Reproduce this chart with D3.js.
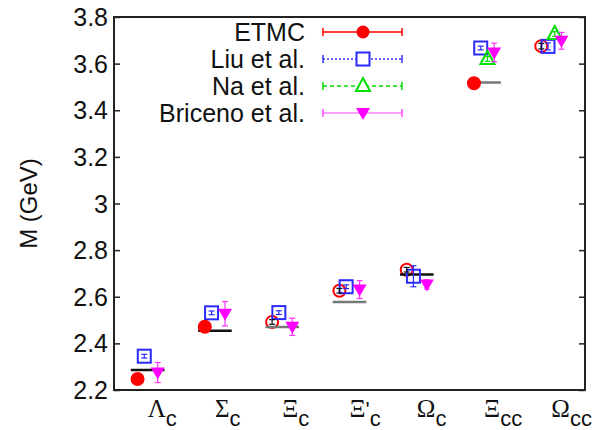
<!DOCTYPE html>
<html>
<head>
<meta charset="utf-8">
<script src="https://cdn.jsdelivr.net/npm/d3@7"></script>
<style>
  body { margin: 0; background: #fff; }
  svg { font-family: "Liberation Sans", Arial, sans-serif; }
</style>
</head>
<body>
<div id="chart"></div>
<script>
// baryon names: [greek letter, prime, subscript]
const baryons = [["Λ", "", "c"], ["Σ", "", "c"], ["Ξ", "", "c"], ["Ξ", "'", "c"], ["Ω", "", "c"], ["Ξ", "", "cc"], ["Ω", "", "cc"]];
const yTicks = [2.2, 2.4, 2.6, 2.8, 3, 3.2, 3.4, 3.6, 3.8];

const etmc      = [2.247, 2.471, 2.492, 2.626, 2.716, 3.516, 3.675];
const etmcErr   = [0.012, 0.014, 0.010, 0.010, 0.010, 0.010, 0.012];
const etmcPhys  = [true, true, false, false, false, true, false];
const expt      = [2.286, 2.454, 2.470, 2.578, 2.695, 3.519, null];
const exptMeas  = [true, true, false, false, true, false, false];
const liu       = [2.345, 2.531, 2.532, 2.643, 2.688, 3.667, 3.674];
const liuErr    = [0.008, 0.008, 0.008, 0.008, 0.045, 0.008, 0.015];
const na        = [null, null, null, null, null, 3.620, 3.727];
const naErr     = [null, null, null, null, null, 0.010, 0.010];
const briceno   = [2.275, 2.527, 2.471, 2.631, 2.653, 3.648, 3.698];
const bricenoErr = [0.043, 0.052, 0.037, 0.038, 0.020, 0.040, 0.036];

const W = 595, H = 430;
const margin = {top: 17, right: 10, bottom: 40, left: 114};

const svg = d3.select("#chart").append("svg")
  .attr("width", W).attr("height", H);

const x = d3.scaleLinear().domain([0.5, 7.5]).range([margin.left, W - margin.right]);
const y = d3.scaleLinear().domain([2.2, 3.8]).range([H - margin.bottom, margin.top]);

// axes (ticks inward, both sides)
svg.append("g")
  .attr("transform", `translate(${margin.left},0)`)
  .call(d3.axisRight(y).tickValues(yTicks).tickSize(6).tickFormat(""))
  .call(g => g.select(".domain").remove());
svg.append("g")
  .attr("transform", `translate(${W - margin.right},0)`)
  .call(d3.axisLeft(y).tickValues(yTicks).tickSize(6).tickFormat(""))
  .call(g => g.select(".domain").remove());
svg.selectAll(".tick line").attr("stroke", "#222").attr("stroke-width", 1.5);

svg.append("g").selectAll("text")
  .data(yTicks)
  .join("text")
  .attr("x", margin.left - 6)
  .attr("y", d => y(d) + 9)
  .attr("text-anchor", "end")
  .attr("font-size", 25)
  .attr("fill", "#111")
  .text(d => d3.format("")(d));

svg.append("text")
  .attr("transform", `translate(37,${(y(2.2) + y(3.8)) / 2}) rotate(-90)`)
  .attr("text-anchor", "middle")
  .attr("font-size", 24)
  .attr("fill", "#111")
  .text("M (GeV)");

// x labels
const xl = svg.append("g").selectAll("text")
  .data(baryons)
  .join("text")
  .attr("x", (d, i) => x(i + 1))
  .attr("y", 417)
  .attr("fill", "#111");
xl.append("tspan").attr("font-family", "Liberation Serif, serif").attr("font-size", 25).text(d => d[0]);
xl.append("tspan").attr("font-size", 22).text(d => d[1]);
xl.append("tspan").attr("font-size", 22).attr("dy", 9).text(d => d[2]);

const off = {etmc: -0.15, liu: -0.05, na: 0.05, bri: 0.15};
const plot = svg.append("g");

// experiment lines
plot.selectAll(".expt")
  .data(expt.map((v, i) => ({v, i})).filter(d => d.v !== null))
  .join("line")
  .attr("x1", d => x(d.i + 1 - 0.25))
  .attr("x2", d => x(d.i + 1 + 0.25))
  .attr("y1", d => y(d.v)).attr("y2", d => y(d.v))
  .attr("stroke", d => exptMeas[d.i] ? "#111" : "#777")
  .attr("stroke-width", 2.5);

function errbars(vals, errs, dx, color, dash) {
  const pts = vals.map((v, i) => ({v, e: errs[i], i})).filter(d => d.v !== null);
  const g = plot.append("g").attr("stroke", color).attr("stroke-width", 1.2);
  pts.forEach(d => {
    const cx = x(d.i + 1 + dx);
    g.append("line").attr("x1", cx).attr("x2", cx)
      .attr("y1", y(d.v - d.e)).attr("y2", y(d.v + d.e));
    [d.v - d.e, d.v + d.e].forEach(t => g.append("line")
      .attr("x1", cx - 3).attr("x2", cx + 3).attr("y1", y(t)).attr("y2", y(t)));
  });
  return pts;
}

// Liu: open squares
errbars(liu, liuErr, off.liu, "#2a2aff").forEach(d => {
  plot.append("rect")
    .attr("x", x(d.i + 1 + off.liu) - 6.5).attr("y", y(d.v) - 6.5)
    .attr("width", 13).attr("height", 13)
    .attr("fill", "none").attr("stroke", "#2a2aff").attr("stroke-width", 2);
});

// Na: open triangles
errbars(na, naErr, off.na, "#00e000").forEach(d => {
  plot.append("path")
    .attr("transform", `translate(${x(d.i + 1 + off.na)},${y(d.v)})`)
    .attr("d", "M0,-8L7,5L-7,5Z")
    .attr("fill", "none").attr("stroke", "#00dd00").attr("stroke-width", 2);
});

// Briceno: filled down triangles
errbars(briceno, bricenoErr, off.bri, "#ff33ff").forEach(d => {
  plot.append("path")
    .attr("transform", `translate(${x(d.i + 1 + off.bri)},${y(d.v)})`)
    .attr("d", "M0,7L7,-5L-7,-5Z")
    .attr("fill", "#ff00ff");
});

// ETMC: filled / open circles
errbars(etmc, etmcErr, off.etmc, "#111").forEach(d => {
  plot.append("circle")
    .attr("cx", x(d.i + 1 + off.etmc)).attr("cy", y(d.v)).attr("r", 6)
    .attr("fill", etmcPhys[d.i] ? "#f00" : "none")
    .attr("stroke", "#f00").attr("stroke-width", 2)
    .lower();
});
plot.selectAll("circle").raise();
plot.selectAll("circle").filter(function() { return d3.select(this).attr("fill") === "none"; }).lower();

// frame
svg.append("rect")
  .attr("x", margin.left).attr("y", margin.top)
  .attr("width", W - margin.left - margin.right)
  .attr("height", H - margin.top - margin.bottom)
  .attr("fill", "none").attr("stroke", "#222").attr("stroke-width", 2);

// legend
const legend = [
  {name: "ETMC", color: "#f00", dash: null, width: 1.5},
  {name: "Liu et al.", color: "#3333ff", dash: "2,2", width: 1.5},
  {name: "Na et al.", color: "#00dd00", dash: "4,3", width: 1.5},
  {name: "Briceno et al.", color: "#ff44ff", dash: null, width: 1}
];
const lg = svg.append("g").selectAll("g").data(legend).join("g")
  .attr("transform", (d, i) => `translate(0,${32 + i * 27})`);
lg.append("text").attr("x", 305).attr("y", 9).attr("text-anchor", "end")
  .attr("font-size", 25).attr("fill", "#111").text(d => d.name);
lg.append("line").attr("x1", 323).attr("x2", 402)
  .attr("stroke", d => d.color).attr("stroke-width", d => d.width)
  .attr("stroke-dasharray", d => d.dash);
lg.each(function(d) {
  const g = d3.select(this);
  [323, 402].forEach(px => g.append("line").attr("x1", px).attr("x2", px)
    .attr("y1", -4).attr("y2", 4).attr("stroke", d.color).attr("stroke-width", 1.5));
});
lg.filter((d, i) => i === 0).append("circle").attr("cx", 363).attr("r", 6.5).attr("fill", "#f00");
lg.filter((d, i) => i === 1).append("rect").attr("x", 356.5).attr("y", -6.5)
  .attr("width", 13).attr("height", 13).attr("fill", "#fff").attr("stroke", "#2a2aff").attr("stroke-width", 2);
lg.filter((d, i) => i === 2).append("path").attr("transform", "translate(363,0)")
  .attr("d", "M0,-8L7,5L-7,5Z").attr("fill", "#fff").attr("stroke", "#00dd00").attr("stroke-width", 2);
lg.filter((d, i) => i === 3).append("path").attr("transform", "translate(363,0)")
  .attr("d", "M0,7L7,-5L-7,-5Z").attr("fill", "#ff00ff");
</script>
</body>
</html>
